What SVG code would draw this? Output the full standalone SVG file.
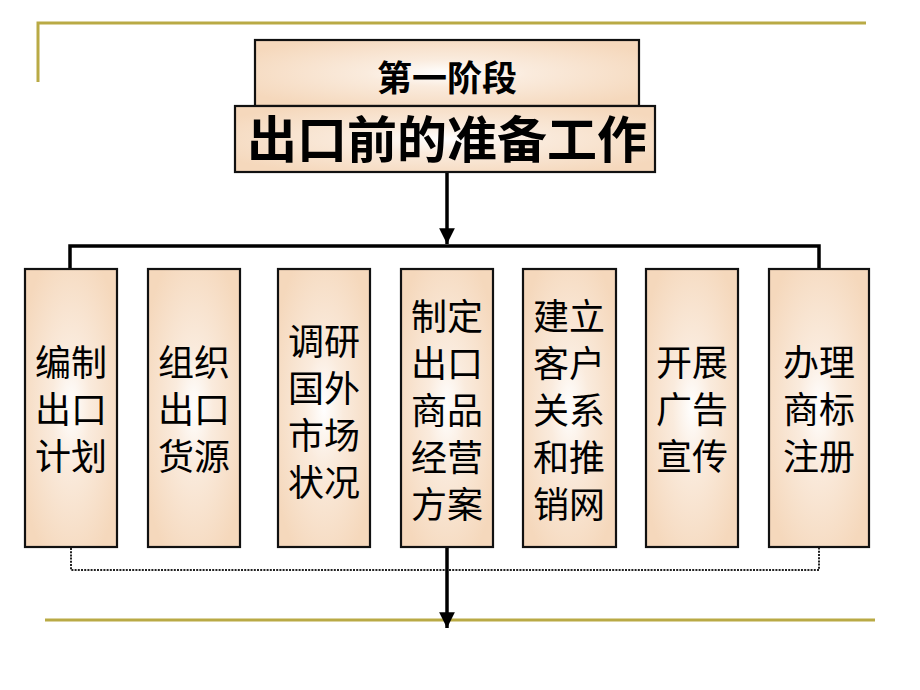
<svg xmlns="http://www.w3.org/2000/svg" width="920" height="690" viewBox="0 0 920 690">
<style>
.box{stroke:#111;stroke-width:2.2;fill:url(#peach)}
.t{font-family:"Noto Sans CJK SC","Noto Sans CJK TC",sans-serif;fill:#000;text-anchor:middle}
.bt{font-size:36px}
.gold{stroke:#B9AA45;stroke-width:3;fill:none}
.conn{stroke:#000;stroke-width:3.5;fill:none}
.dot{stroke:#222;stroke-width:2;stroke-dasharray:2 1.2;fill:none}
</style>
<defs>
<radialGradient id="peach" cx="0.5" cy="0.5" r="0.6">
<stop offset="0" stop-color="#FFFFFF"/>
<stop offset="0.35" stop-color="#FAEBDD"/>
<stop offset="1" stop-color="#F5D8BC"/>
</radialGradient>
<marker id="ah" viewBox="0 0 10 10" refX="10" refY="5" markerWidth="4.5" markerHeight="5" orient="auto" markerUnits="strokeWidth">
<path d="M0,0 L10,5 L0,10 Z" fill="#000"/>
</marker>
</defs>
<rect width="920" height="690" fill="#fff"/>
<g id="frame">
<path class="gold" d="M38,82 V23 H866"/>
<path class="gold" d="M45,620 H875"/>
</g>
<g id="connectors">
<path class="conn" d="M447,172 V244" marker-end="url(#ah)"/>
<path class="conn" d="M70,268 V246 H819 V268"/>
<path class="dot" d="M71,548 V570 H819 V548"/>
<path class="conn" d="M447,548 V628" marker-end="url(#ah)"/>
</g>
<g id="stage">
<rect class="box" x="255" y="40" width="384" height="66"/>
<text class="t" x="447" y="91" font-size="35" font-weight="bold">第一阶段</text>
</g>
<g id="title">
<rect class="box" x="235" y="106" width="420" height="66"/>
<text class="t" x="447" y="158" font-size="50" font-weight="bold">出口前的准备工作</text>
</g>
<g id="n1">
<rect class="box" x="25" y="269" width="92" height="278"/>
<text class="t bt" x="71" y="376"><tspan x="71">编制</tspan><tspan x="71" dy="47">出口</tspan><tspan x="71" dy="47">计划</tspan></text>
</g>
<g id="n2">
<rect class="box" x="148" y="269" width="92" height="278"/>
<text class="t bt" x="194" y="376"><tspan x="194">组织</tspan><tspan x="194" dy="47">出口</tspan><tspan x="194" dy="47">货源</tspan></text>
</g>
<g id="n3">
<rect class="box" x="278" y="269" width="92" height="278"/>
<text class="t bt" x="324" y="355"><tspan x="324">调研</tspan><tspan x="324" dy="47">国外</tspan><tspan x="324" dy="47">市场</tspan><tspan x="324" dy="47">状况</tspan></text>
</g>
<g id="n4">
<rect class="box" x="401" y="269" width="92" height="278"/>
<text class="t bt" x="447" y="330"><tspan x="447">制定</tspan><tspan x="447" dy="47">出口</tspan><tspan x="447" dy="47">商品</tspan><tspan x="447" dy="47">经营</tspan><tspan x="447" dy="47">方案</tspan></text>
</g>
<g id="n5">
<rect class="box" x="523" y="269" width="93" height="278"/>
<text class="t bt" x="569" y="330"><tspan x="569">建立</tspan><tspan x="569" dy="47">客户</tspan><tspan x="569" dy="47">关系</tspan><tspan x="569" dy="47">和推</tspan><tspan x="569" dy="47">销网</tspan></text>
</g>
<g id="n6">
<rect class="box" x="646" y="269" width="92" height="278"/>
<text class="t bt" x="692" y="376"><tspan x="692">开展</tspan><tspan x="692" dy="47">广告</tspan><tspan x="692" dy="47">宣传</tspan></text>
</g>
<g id="n7">
<rect class="box" x="769" y="269" width="100" height="278"/>
<text class="t bt" x="819" y="376"><tspan x="819">办理</tspan><tspan x="819" dy="47">商标</tspan><tspan x="819" dy="47">注册</tspan></text>
</g>
</svg>
